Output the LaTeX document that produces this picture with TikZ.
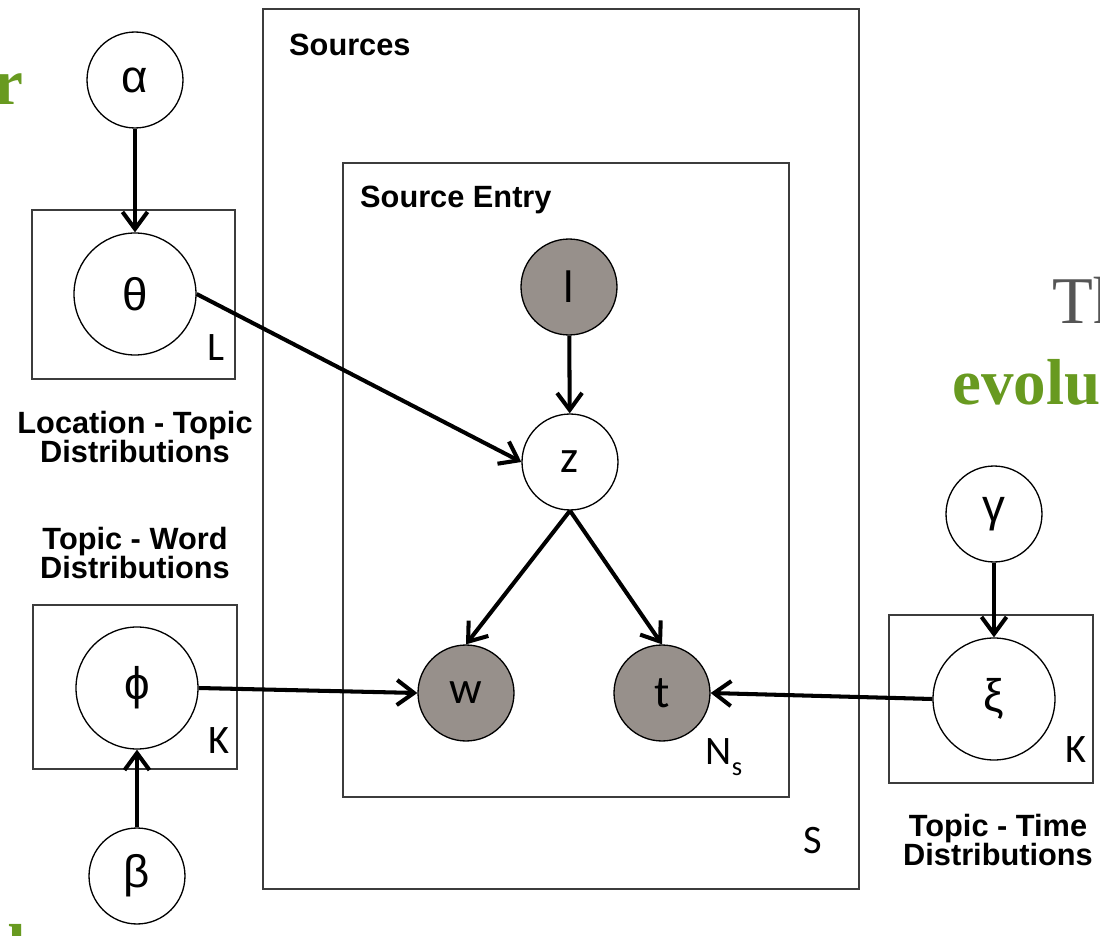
\documentclass[tikz,border=0pt]{standalone}
\usepackage{fontspec}
\setmainfont{Liberation Sans}
\newfontfamily\carlito{Carlito}
\newfontfamily\slideserif{Liberation Serif}
\usetikzlibrary{fit}
\usetikzlibrary{arrows.meta}
\definecolor{observed}{RGB}{151,144,139}
\definecolor{slidegreen}{RGB}{104,154,32}
\definecolor{slidegray}{RGB}{85,85,85}
\definecolor{platecolor}{RGB}{60,60,60}
\tikzstyle{randvar}=[draw, circle, minimum size=1.92cm, inner sep=0, line width=0.75pt, font=\fontsize{26}{26}\selectfont]
\tikzstyle{big randvar}=[randvar, minimum size=2.44cm]
\tikzstyle{letter}=[font=\carlito\fontsize{26}{26}\selectfont]
\tikzstyle{observed randvar}=[randvar, letter, fill=observed]
\tikzstyle{plate}=[draw=platecolor, line width=1pt, inner sep=0]
\tikzstyle{plate label}=[font=\carlito\fontsize{23}{23}\selectfont]
\tikzstyle{caption}=[align=center, font=\bfseries\fontsize{17.5}{17}\selectfont]
\tikzstyle{dependency}=[-{Straight Barb[length=3.4mm, width=5mm]}, line width=2.3pt]
\tikzstyle{slide green}=[inner sep=0, text=slidegreen, font=\slideserif\bfseries\fontsize{37}{37}\selectfont]

\begin{document}
\begin{tikzpicture}[x=0.02cm, y=-0.02cm]
      \useasboundingbox (0,0) rectangle (1100,936);

      \node[plate, fit={(263,9) (859,889)}] (sources) {};
      \node[plate, fit={(343,163) (789,797)}] (entry) {};
      \node[plate, fit={(32,210) (235,379)}] (location plate) {};
      \node[plate, fit={(33,605) (237,769)}] (word plate) {};
      \node[plate, fit={(889,615) (1093,783)}] (time plate) {};

      \node[caption, anchor=west] (sources label) at (283,45) {Sources};
      \node[caption, anchor=west] (entry label) at (354,200) {Source Entry};

      \node[randvar] (alpha) at (135,80) {α};
      \node[big randvar] (theta) at (135,294) {θ};
      \node[big randvar] (phi) at (137,688) {ϕ};
      \node[randvar] (beta) at (137,876) {β};
      \node[randvar] (gamma) at (994,514) {γ};
      \node[big randvar] (xi) at (994,699) {ξ};

      \node[observed randvar] (l) at (569,287) {l};
      \node[randvar, letter] (z) at (570,462) {z};
      \node[observed randvar] (w) at (466,693) {w};
      \node[observed randvar] (t) at (662,693) {t};

      \node[plate label] (L) at (216,348) {L};
      \node[plate label] (K word) at (219,741) {K};
      \node[plate label] (K time) at (1076,750) {K};
      \node[plate label] (S) at (813,841) {S};
      \node[plate label] (Ns) at (724,757) {N\raisebox{-0.6ex}{\fontsize{15}{15}\selectfont s}};

      \node[caption] (location caption) at (135,437) {Location - Topic\\Distributions};
      \node[caption] (word caption) at (135,553) {Topic - Word\\Distributions};
      \node[caption] (time caption) at (998,840) {Topic - Time\\Distributions};

      \node[slide green, anchor=base east] (fragment r) at (24,105) {r};
      \node[inner sep=0, anchor=base west, text=slidegray, font=\slideserif\fontsize{38}{38}\selectfont] (fragment th) at (1052,323) {Th};
      \node[slide green, anchor=base west] (fragment evolu) at (952,404) {evolu};
      \node[slide green, anchor=base east] (fragment d) at (26,969) {d};

      \draw[dependency] (alpha) to (theta);
      \draw[dependency] (beta) to (phi);
      \draw[dependency] (gamma) to (xi);
      \draw[dependency] (l) to (z);
      \draw[dependency] (theta.east) to (z.west);
      \draw[dependency] (z.south) to (w.north);
      \draw[dependency] (z.south) to (t.north);
      \draw[dependency] (phi.east) to (w.west);
      \draw[dependency] (xi.west) to (t.east);
    \end{tikzpicture}
\end{document}
